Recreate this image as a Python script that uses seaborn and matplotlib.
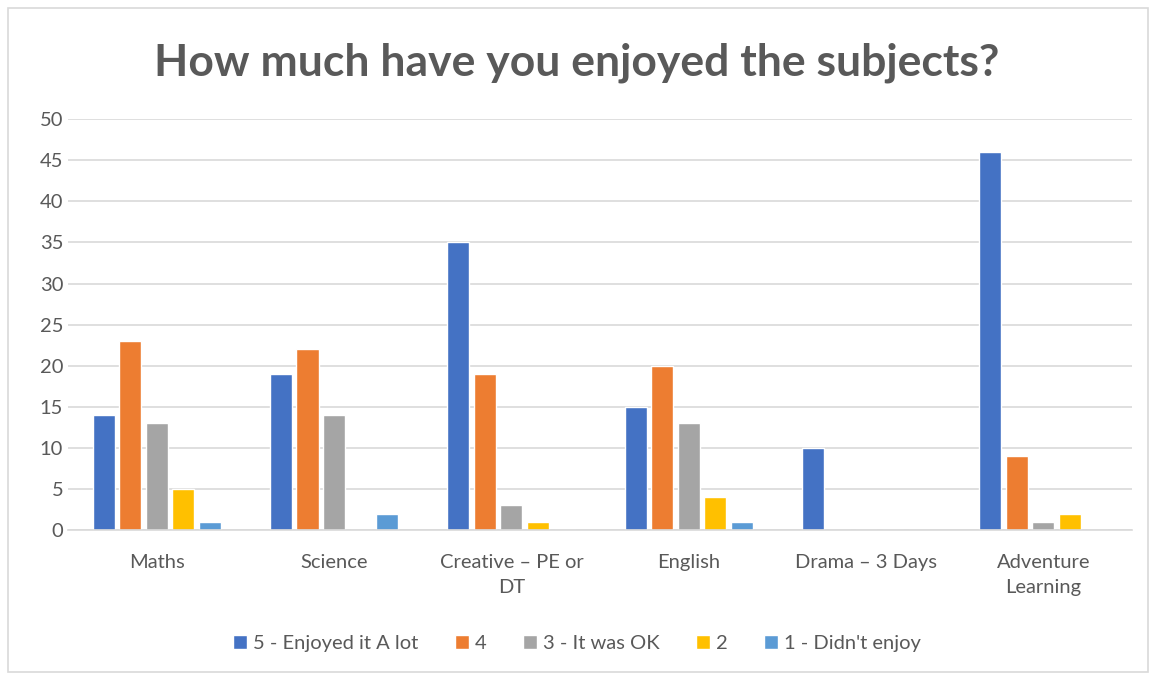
import matplotlib
matplotlib.use("Agg")
import matplotlib.pyplot as plt
import seaborn as sns
import pandas as pd
from matplotlib.patches import Rectangle

# data
subjects = ["Maths", "Science", "Creative – PE or\nDT", "English", "Drama – 3 Days", "Adventure\nLearning"]
ratings = ["5 - Enjoyed it A lot", "4", "3 - It was OK", "2", "1 - Didn't enjoy"]
enjoyed_a_lot = [14, 19, 35, 15, 10, 46]
four = [23, 22, 19, 20, 0, 9]
was_ok = [13, 14, 3, 13, 0, 1]
two = [5, 0, 1, 4, 0, 2]
didnt_enjoy = [1, 2, 0, 1, 0, 0]
colors = ["#4472C4", "#ED7D31", "#A5A5A5", "#FFC000", "#5B9BD5"]

rows = []
for rating, vals in zip(ratings, [enjoyed_a_lot, four, was_ok, two, didnt_enjoy]):
    for subj, v in zip(subjects, vals):
        rows.append({"subject": subj, "rating": rating, "count": v})
df = pd.DataFrame(rows)

sns.set_style("white")
plt.rcParams["font.family"] = ["Lato", "DejaVu Sans"]

fig = plt.figure(figsize=(11.54, 6.77), dpi=100)
ax = fig.add_axes([0.059, 0.217, 0.922, 0.607])

sns.barplot(data=df, x="subject", y="count", hue="rating", order=subjects,
            hue_order=ratings, palette=colors, width=0.75, gap=0.17,
            saturation=1, ax=ax)

ax.set_ylim(0, 50)
ax.set_yticks(range(0, 51, 5))
ax.yaxis.grid(True, color="#D9D9D9", linewidth=1.2)
ax.set_axisbelow(True)
for s in ["top", "right", "left"]:
    ax.spines[s].set_visible(False)
ax.spines["bottom"].set_color("#D9D9D9")
ax.spines["bottom"].set_linewidth(1.2)
ax.tick_params(axis="both", length=0, labelsize=14.5, colors="#595959")
ax.tick_params(axis="x", pad=17)
for lbl in ax.get_xticklabels():
    lbl.set_linespacing(1.6)
ax.set_xlabel("")
ax.set_ylabel("")

fig.text(0.5, 0.908, "How much have you enjoyed the subjects?", ha="center", va="center",
         fontsize=32, fontweight="bold", color="#595959")

handles, labels = ax.get_legend_handles_labels()
ax.legend_.remove()
fig.legend(handles, labels, loc="center", bbox_to_anchor=(0.5, 0.05), ncol=5,
           frameon=False, fontsize=14.5, labelcolor="#595959", handlelength=0.7,
           handleheight=0.7, handletextpad=0.3, columnspacing=1.8)

# chart border
fig.patches.append(Rectangle((8 / 1154, 5 / 677), 1140 / 1154, 664 / 677,
                             transform=fig.transFigure, fill=False,
                             edgecolor="#D9D9D9", linewidth=1.2))

fig.savefig("out.png", dpi=100)
